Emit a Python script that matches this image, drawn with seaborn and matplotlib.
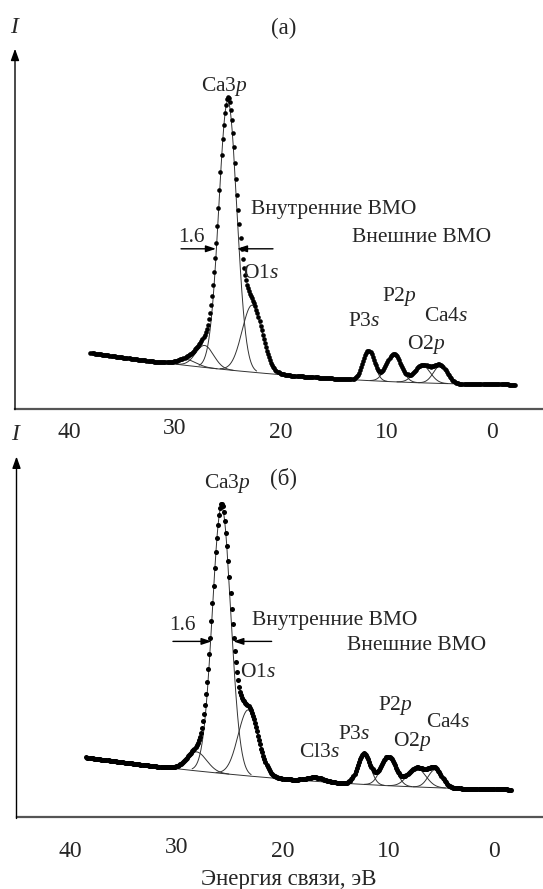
import numpy as np
import matplotlib
matplotlib.use("Agg")
import matplotlib.pyplot as plt
import matplotlib.transforms as mt
import seaborn as sns

# ---------------- data ----------------
# panel (a): Gaussian components (centre eV, height, sigma eV) and background knots
a_names   = ["minor", "shoulder", "Ca3p", "O1s", "P3s", "P2p", "O2p", "Ca4s"]
a_centers = [28.9, 27.2, 25.0, 22.7, 11.68, 9.31, 6.6, 4.9]
a_heights = [6, 22, 269, 67, 30, 28, 17.5, 17.5]
a_sigmas  = [0.9, 0.85, 0.85, 0.95, 0.55, 0.7, 0.75, 0.65]
a_bg_E    = [38.0, 30.7, 18.0, 4.6, -2.2]
a_bg_I    = [55.5, 45.5, 32.0, 25.0, 24.0]
a_range   = (38.0, -2.2)

# panel (б)
b_names   = ["shoulder", "Ca3p", "O1s", "Cl3s", "P3s", "P2p", "O2p", "Ca4s"]
b_centers = [28.1, 25.74, 23.23, 16.9, 12.31, 10.02, 7.34, 5.6]
b_heights = [19, 267, 66, 4, 31, 29, 19, 18]
b_sigmas  = [0.95, 0.87, 0.95, 0.8, 0.6, 0.7, 0.85, 0.65]
b_bg_E    = [38.5, 31.3, 20.2, 4.4, -1.6]
b_bg_I    = [60.0, 50.0, 39.0, 29.0, 28.0]
b_range   = (38.5, -1.6)

x_ticks = [40, 30, 20, 10, 0]

# label texts with positions (eV, intensity)
a_labels = [("Ca3$p$", 25.36, 322), ("1.6", 28.49, 171.5),
            ("Внутренние ВМО", 15.0, 199), ("Внешние ВМО", 6.68, 170.5),
            ("O1$s$", 21.82, 135.5), ("P3$s$", 12.12, 87), ("P2$p$", 8.81, 112),
            ("Ca4$s$", 4.36, 92), ("O2$p$", 6.25, 64)]
b_labels = [("Ca3$p$", 25.24, 333.5), ("1.6", 29.48, 192),
            ("Внутренние ВМО", 15.05, 197), ("Внешние ВМО", 7.31, 172),
            ("O1$s$", 22.31, 145), ("Cl3$s$", 16.51, 65), ("P3$s$", 13.25, 83),
            ("P2$p$", 9.39, 112), ("O2$p$", 7.78, 76), ("Ca4$s$", 4.39, 95)]
a_arrows = dict(y=159.7, left=(29.43, 26.12), right=(20.73, 24.14))
b_arrows = dict(y=176.0, left=(30.33, 26.68), right=(21.02, 24.64))

# ---------------- style ----------------
sns.set_style("white")
plt.rcParams.update({
    "font.family": ["Liberation Serif", "DejaVu Serif"],
    "mathtext.fontset": "custom",
    "mathtext.rm": "Liberation Serif",
    "mathtext.it": "Liberation Serif:italic",
    "mathtext.bf": "Liberation Serif:bold",
})
FS = 15.5
TICKFS = 17

W, H = 543, 889
fig = plt.figure(figsize=(W / 100, H / 100), dpi=100)


def gauss(E, c, h, s):
    return h * np.exp(-(E - c) ** 2 / (2 * s * s))


def panel(rect_px, xlim, ylim, centers, heights, sigmas, bgE, bgI, erange,
          labels, arrows, dot_s, pad):
    l, r, b, t = rect_px
    ax = fig.add_axes([l / W, 1 - b / H, (r - l) / W, (b - t) / H])
    coef = np.polyfit(bgE, bgI, 2)
    E = np.arange(erange[1], erange[0] + 1e-9, 0.1)
    bg = np.polyval(coef, E)
    total = bg.copy()
    for c, h, s in zip(centers, heights, sigmas):
        total += gauss(E, c, h, s)
    # baseline line
    Eb = np.linspace(31.0, 3.0, 200)
    sns.lineplot(x=Eb, y=np.polyval(coef, Eb), ax=ax, color="#333333",
                 lw=0.7, sort=False, estimator=None)
    # components
    for c, h, s in zip(centers, heights, sigmas):
        Ec = np.linspace(c - 3.2 * s, c + 3.2 * s, 200)
        sns.lineplot(x=Ec, y=np.polyval(coef, Ec) + gauss(Ec, c, h, s), ax=ax,
                     color="#333333", lw=0.7, sort=False, estimator=None)
    sns.scatterplot(x=E, y=total, ax=ax, s=dot_s, color="black",
                    linewidth=0, zorder=5)
    ax.set_xlim(*xlim)
    ax.set_ylim(*ylim)
    ax.set_yticks([])
    ax.set_xticks(x_ticks)
    ax.set_xticklabels([str(v) for v in x_ticks], fontsize=TICKFS)
    ax.tick_params(axis="x", direction="in", length=6.5, width=1.0,
                   color="#333333", pad=pad)
    for sp in ("top", "right", "left"):
        ax.spines[sp].set_visible(False)
    ax.spines["bottom"].set_color("#555555")
    ax.spines["bottom"].set_linewidth(1.6)
    ax.set_xlabel("")
    ax.set_ylabel("")
    # y arrow
    ax.annotate("", xy=(0, 1), xytext=(0, -0.003), xycoords="axes fraction",
                arrowprops=dict(arrowstyle="-|>,head_length=0.7,head_width=0.25",
                                color="black", lw=1.0, shrinkA=0, shrinkB=0),
                annotation_clip=False)
    for txt, x, y in labels:
        ax.text(x, y, txt, fontsize=FS, ha="center", va="center", zorder=6)
    yA = arrows["y"]
    for (x0, x1) in (arrows["left"], arrows["right"]):
        ax.annotate("", xy=(x1, yA), xytext=(x0, yA), xycoords="data",
                    arrowprops=dict(arrowstyle="-|>,head_length=0.6,head_width=0.2",
                                    color="black", lw=1.0, shrinkA=0, shrinkB=0))
    # "30" label sits a bit higher in the reference
    for lab in ax.get_xticklabels():
        if lab.get_text() == "30":
            lab.set_transform(lab.get_transform() +
                              mt.ScaledTranslation(0, 4 / 100, fig.dpi_scale_trans))
    return ax


# panel (a)
panel((15, 543, 408.5, 48.7), (45.14, -4.82), (0, 359.8),
      a_centers, a_heights, a_sigmas, a_bg_E, a_bg_I, a_range,
      a_labels, a_arrows, dot_s=11, pad=10)
# panel (б)
panel((16.5, 543, 817.4, 456.5), (45.09, -4.58), (0, 360.9),
      b_centers, b_heights, b_sigmas, b_bg_E, b_bg_I, b_range,
      b_labels, b_arrows, dot_s=13, pad=17)

fig.text(14 / W, 1 - 27.8 / H, "I", fontsize=FS + 1.5, style="italic",
         ha="center", va="center")
fig.text(284 / W, 1 - 28.7 / H, "(а)", fontsize=FS + 1, ha="center", va="center")
fig.text(15 / W, 1 - 434 / H, "I", fontsize=FS + 1.5, style="italic",
         ha="center", va="center")
fig.text(283.4 / W, 1 - 478 / H, "(б)", fontsize=FS + 1, ha="center", va="center")
fig.text(288.6 / W, 1 - 879 / H, "Энергия связи, эВ", fontsize=FS + 1,
         ha="center", va="center")

fig.savefig("out.png", dpi=100)
